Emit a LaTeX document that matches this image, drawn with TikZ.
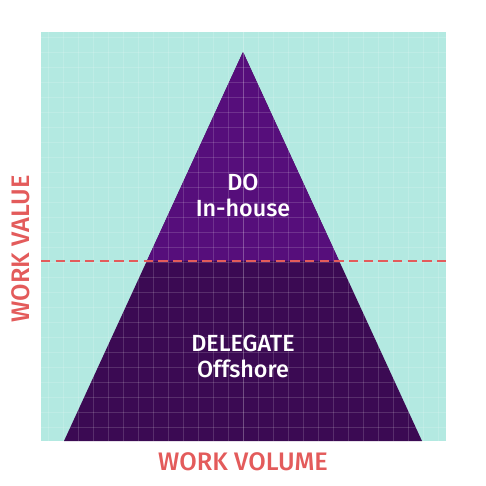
\documentclass[tikz,border=0pt]{standalone}
\usepackage{fontspec}
\setmainfont{Fira Sans}[BoldFont={* Medium}]
\usepackage{tikz}
\usetikzlibrary{calc}
\definecolor{teal1}{HTML}{B3E9E1}
\definecolor{purpleA}{HTML}{560E7B}
\definecolor{purpleB}{HTML}{3B0A53}
\definecolor{redlab}{HTML}{E35B5B}

\begin{document}
\begin{tikzpicture}[x=0.75pt,y=0.75pt,yscale=-1,xscale=1]
\path[use as bounding box] (0,0) rectangle (486,486); %set diagram size 486 x 486

%Shape: Rectangle [id:background]
\fill[teal1] (41,32) rectangle (446,441) ;
\coordinate (apex) at (243,52);
\coordinate (baseL) at (64,441);
\coordinate (baseR) at (422,441);
\coordinate (cutL) at (41,260.7);
\coordinate (cutR) at (446,260.7);

%Shape: Triangle [id:lower]
\fill[purpleB] (apex) -- (baseR) -- (baseL) -- cycle ;
%Shape: Triangle [id:upper]
\begin{scope}
\clip (41,32) rectangle (446,260.7);
\fill[purpleA] (apex) -- (baseR) -- (baseL) -- cycle ;
\end{scope}

%Shape: Grid
\begin{scope}
\clip (41,32) rectangle (446,441);
\foreach \gx in {0,15,...,210} {
  \draw[white,opacity=0.15,line width=0.6] (243+\gx,32) -- (243+\gx,441) ;
  \draw[white,opacity=0.15,line width=0.6] (243-\gx,32) -- (243-\gx,441) ;
}
\foreach \gy in {37,52,...,441} {
  \draw[white,opacity=0.15,line width=0.6] (41,\gy) -- (446,\gy) ;
}
\end{scope}

%Straight Lines [id:cutline]
\draw[redlab,line width=1.4,dash pattern=on 7 off 4] (cutL) -- (cutR) ;

% Text Node
\node[white,font=\bfseries\fontsize{17.5}{19.5}\selectfont,align=center] (doTxt) at (243,195) {DO\\In-house};
% Text Node
\node[white,font=\bfseries\fontsize{17.5}{19.5}\selectfont,align=center] (delegateTxt) at (243,356) {DELEGATE\\Offshore};
% Text Node
\node[redlab,font=\bfseries\fontsize{19}{22}\selectfont] (volumeTxt) at (243,462) {WORK VOLUME};
% Text Node
\node[redlab,font=\bfseries\fontsize{19}{22}\selectfont,rotate=90] (valueTxt) at (21,249) {WORK VALUE};

\end{tikzpicture}
\end{document}
